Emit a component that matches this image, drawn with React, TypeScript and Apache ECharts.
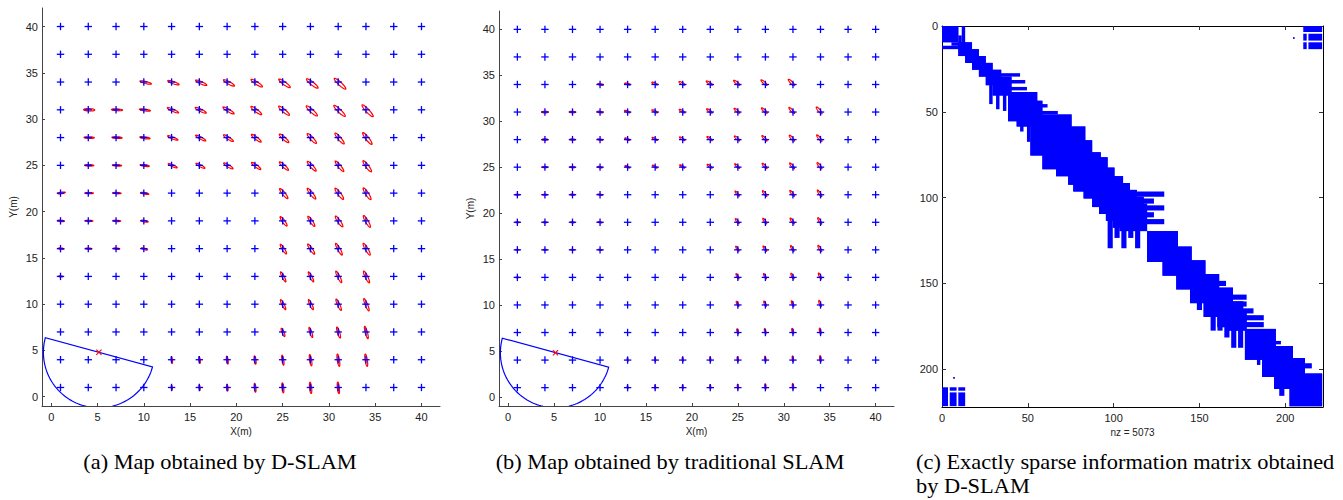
import { useEffect, useRef } from "react";
import * as echarts from "echarts";

// ---------- data ----------
const landmarkX = [1, 4, 7, 10, 13, 16, 19, 22, 25, 28, 31, 34, 37, 40];
const landmarkY = [1, 4, 7, 10, 13, 16, 19, 22, 25, 28, 31, 34, 37, 40];
const mapTicks = [0, 5, 10, 15, 20, 25, 30, 35, 40];
// robot pose: x, y, heading(deg), sensor range (m)
const robotPose = [5.15, 4.8, -105.3, 6];

// D-SLAM estimate ellipses: [x, y, dx, dy, semiMajor, semiMinor, angleDeg]
const ellipsesDSLAM = [
  [10, 34, 0.2, -0.05, 0.64, 0.11, -14], [13, 34, 0.2, -0.07, 0.65, 0.12, -19], [16, 34, 0.2, -0.08, 0.66, 0.13, -24],
  [19, 34, 0.2, -0.1, 0.68, 0.14, -29], [22, 34, 0.2, -0.12, 0.73, 0.15, -33], [25, 34, 0.2, -0.14, 0.76, 0.16, -36],
  [28, 34, 0.2, -0.16, 0.79, 0.17, -38], [31, 34, 0.2, -0.18, 0.84, 0.17, -43],
  [4, 31, 0.1, 0, 0.6, 0.13, -2], [7, 31, 0.1, 0, 0.6, 0.1, -3], [10, 31, 0.12, -0.02, 0.6, 0.1, -8],
  [13, 31, 0.15, -0.05, 0.67, 0.12, -24], [16, 31, 0.15, -0.05, 0.66, 0.13, -26], [19, 31, 0.15, -0.07, 0.7, 0.14, -31],
  [22, 31, 0.15, -0.08, 0.72, 0.15, -37], [25, 31, 0.15, -0.1, 0.75, 0.16, -40], [28, 31, 0.15, -0.12, 0.8, 0.17, -42],
  [31, 31, 0.15, -0.12, 0.85, 0.17, -44], [34, 31, 0.18, -0.1, 0.87, 0.17, -47],
  [4, 28, 0.1, 0, 0.55, 0.09, -2], [7, 28, 0.1, 0, 0.55, 0.09, -3], [10, 28, 0.12, -0.02, 0.56, 0.1, -8],
  [13, 28, 0.13, -0.04, 0.6, 0.11, -22], [16, 28, 0.14, -0.05, 0.62, 0.12, -28], [19, 28, 0.14, -0.06, 0.64, 0.13, -33],
  [22, 28, 0.15, -0.07, 0.66, 0.14, -38], [25, 28, 0.15, -0.08, 0.68, 0.15, -42], [28, 28, 0.15, -0.1, 0.72, 0.16, -47],
  [31, 28, 0.15, -0.1, 0.76, 0.16, -50], [34, 28, 0.15, -0.1, 0.8, 0.17, -52],
  [4, 25, 0.1, 0, 0.5, 0.08, -1], [7, 25, 0.1, 0, 0.5, 0.08, -3], [10, 25, 0.1, -0.02, 0.5, 0.09, -8],
  [13, 25, 0.12, -0.04, 0.53, 0.1, -24], [16, 25, 0.12, -0.05, 0.55, 0.11, -28], [19, 25, 0.13, -0.06, 0.59, 0.12, -31],
  [22, 25, 0.14, -0.07, 0.62, 0.13, -37], [25, 25, 0.14, -0.08, 0.66, 0.14, -43], [28, 25, 0.14, -0.09, 0.7, 0.15, -48],
  [31, 25, 0.14, -0.1, 0.72, 0.15, -51], [34, 25, 0.14, -0.1, 0.74, 0.16, -53],
  [1, 22, 0.1, 0.02, 0.42, 0.08, 8], [4, 22, 0.1, 0, 0.45, 0.07, 0], [7, 22, 0.1, 0, 0.45, 0.07, -3],
  [10, 22, 0.1, -0.03, 0.45, 0.08, -10], [25, 22, 0.12, -0.05, 0.69, 0.15, -51], [28, 22, 0.12, -0.06, 0.73, 0.15, -52],
  [31, 22, 0.12, -0.07, 0.75, 0.16, -53], [34, 22, 0.12, -0.07, 0.75, 0.16, -57],
  [1, 19, 0.05, 0, 0.38, 0.07, -5], [4, 19, 0.08, 0, 0.42, 0.07, -2], [7, 19, 0.08, 0, 0.42, 0.07, -3],
  [10, 19, 0.08, -0.03, 0.4, 0.08, -10], [25, 19, 0.1, -0.05, 0.62, 0.14, -54], [28, 19, 0.1, -0.05, 0.65, 0.14, -56],
  [31, 19, 0.1, -0.06, 0.7, 0.15, -56], [34, 19, 0.1, -0.06, 0.73, 0.15, -60],
  [1, 16, 0.05, 0, 0.33, 0.07, -5], [4, 16, 0.05, 0, 0.35, 0.07, -3], [7, 16, 0.05, 0, 0.35, 0.07, -5],
  [10, 16, 0.06, -0.03, 0.35, 0.08, -15], [25, 16, 0.08, -0.05, 0.61, 0.13, -58], [28, 16, 0.08, -0.05, 0.65, 0.14, -56],
  [31, 16, 0.08, -0.06, 0.72, 0.14, -61], [34, 16, 0.08, -0.06, 0.73, 0.15, -60],
  [1, 13, 0.03, 0, 0.22, 0.06, -5], [25, 13, 0.06, -0.05, 0.6, 0.12, -63], [28, 13, 0.06, -0.05, 0.6, 0.12, -63],
  [31, 13, 0.06, -0.05, 0.7, 0.13, -64], [34, 13, 0.06, -0.06, 0.7, 0.14, -64],
  [25, 10, 0.05, -0.05, 0.6, 0.12, -63], [28, 10, 0.05, -0.05, 0.6, 0.12, -65], [31, 10, 0.05, -0.06, 0.67, 0.13, -66],
  [34, 10, 0.05, -0.06, 0.72, 0.13, -68],
  [25, 7, 0.04, -0.05, 0.48, 0.11, -68], [28, 7, 0.04, -0.05, 0.57, 0.11, -72], [31, 7, 0.04, -0.06, 0.62, 0.12, -73],
  [34, 7, 0.04, -0.06, 0.69, 0.12, -75],
  [13, 4, 0.02, -0.03, 0.36, 0.07, -82], [16, 4, 0.02, -0.03, 0.36, 0.08, -82], [19, 4, 0.02, -0.04, 0.43, 0.09, -82],
  [22, 4, 0.02, -0.04, 0.45, 0.1, -82], [25, 4, 0.02, -0.05, 0.54, 0.1, -81], [28, 4, 0.02, -0.05, 0.61, 0.11, -81],
  [31, 4, 0.02, -0.05, 0.67, 0.12, -81], [34, 4, 0.03, -0.05, 0.67, 0.12, -81],
  [13, 1, 0.02, -0.02, 0.27, 0.06, -84], [16, 1, 0.02, -0.02, 0.3, 0.07, -84], [19, 1, 0.02, -0.03, 0.35, 0.08, -84],
  [22, 1, 0.02, -0.03, 0.48, 0.09, -84], [25, 1, 0.02, -0.04, 0.54, 0.1, -84], [28, 1, 0.02, -0.04, 0.61, 0.11, -84],
  [31, 1, 0.02, -0.04, 0.63, 0.11, -84],
];

// traditional SLAM estimate ellipses: [x, y, dx, dy, semiMajor, semiMinor, angleDeg]
const ellipsesSLAM = [
  [10, 34, 0.05, 0, 0.32, 0.08, -10], [13, 34, 0, 0.05, 0.32, 0.08, -15], [16, 34, -0.05, 0.1, 0.34, 0.09, -22],
  [19, 34, -0.08, 0.12, 0.37, 0.1, -28], [22, 34, -0.1, 0.15, 0.4, 0.1, -33], [25, 34, -0.12, 0.18, 0.42, 0.11, -38],
  [28, 34, -0.15, 0.2, 0.44, 0.11, -42], [31, 34, -0.17, 0.22, 0.47, 0.12, -46],
  [4, 31, 0, 0, 0.36, 0.09, 0], [7, 31, 0, 0, 0.34, 0.08, -3], [10, 31, 0, 0, 0.33, 0.08, -8],
  [13, 31, -0.03, 0.05, 0.32, 0.08, -20], [16, 31, -0.05, 0.08, 0.34, 0.09, -26], [19, 31, -0.07, 0.1, 0.36, 0.09, -31],
  [22, 31, -0.09, 0.12, 0.38, 0.1, -36], [25, 31, -0.1, 0.14, 0.4, 0.1, -40], [28, 31, -0.12, 0.16, 0.42, 0.11, -44],
  [31, 31, -0.13, 0.17, 0.44, 0.11, -47], [34, 31, -0.15, 0.18, 0.47, 0.12, -50],
  [4, 28, 0, 0, 0.32, 0.08, 0], [7, 28, 0, 0, 0.3, 0.07, -3], [10, 28, 0, 0, 0.3, 0.07, -8],
  [13, 28, -0.03, 0.05, 0.3, 0.08, -22], [16, 28, -0.05, 0.07, 0.32, 0.08, -28], [19, 28, -0.06, 0.09, 0.34, 0.09, -33],
  [22, 28, -0.08, 0.11, 0.36, 0.09, -38], [25, 28, -0.09, 0.13, 0.38, 0.1, -42], [28, 28, -0.1, 0.14, 0.4, 0.1, -47],
  [31, 28, -0.12, 0.15, 0.42, 0.11, -50], [34, 28, -0.13, 0.16, 0.45, 0.11, -52],
  [4, 25, 0, 0, 0.3, 0.07, 0], [7, 25, 0, 0, 0.28, 0.07, -3], [10, 25, 0, 0, 0.28, 0.07, -8],
  [13, 25, -0.02, 0.04, 0.29, 0.07, -24], [16, 25, -0.04, 0.06, 0.3, 0.08, -28], [19, 25, -0.05, 0.08, 0.32, 0.08, -31],
  [22, 25, -0.07, 0.1, 0.34, 0.09, -37], [25, 25, -0.08, 0.12, 0.36, 0.09, -43], [28, 25, -0.09, 0.13, 0.38, 0.1, -48],
  [31, 25, -0.1, 0.14, 0.4, 0.1, -51], [34, 25, -0.11, 0.15, 0.42, 0.11, -53],
  [1, 22, 0, 0, 0.24, 0.06, 0], [4, 22, 0, 0, 0.26, 0.06, 0], [7, 22, 0, 0, 0.26, 0.06, -3],
  [10, 22, 0, 0, 0.26, 0.06, -10], [25, 22, -0.07, 0.12, 0.36, 0.09, -51], [28, 22, -0.08, 0.13, 0.38, 0.1, -52],
  [31, 22, -0.09, 0.14, 0.4, 0.1, -53], [34, 22, -0.1, 0.15, 0.42, 0.1, -57],
  [1, 19, 0, 0, 0.22, 0.06, 0], [4, 19, 0, 0, 0.24, 0.06, 0], [7, 19, 0, 0, 0.24, 0.06, -3],
  [10, 19, 0, 0, 0.24, 0.06, -10], [25, 19, -0.06, 0.12, 0.34, 0.09, -54], [28, 19, -0.07, 0.13, 0.36, 0.09, -56],
  [31, 19, -0.08, 0.14, 0.38, 0.1, -56], [34, 19, -0.09, 0.15, 0.4, 0.1, -60],
  [1, 16, 0, 0, 0.2, 0.05, 0], [4, 16, 0, 0, 0.22, 0.05, 0], [7, 16, 0, 0, 0.22, 0.05, -3],
  [10, 16, 0, 0, 0.22, 0.05, -10], [25, 16, -0.05, 0.12, 0.32, 0.08, -58], [28, 16, -0.06, 0.13, 0.34, 0.09, -56],
  [31, 16, -0.07, 0.14, 0.36, 0.09, -61], [34, 16, -0.08, 0.15, 0.38, 0.1, -60],
  [1, 13, 0, 0, 0.18, 0.05, 0], [25, 13, -0.04, 0.12, 0.32, 0.08, -63], [28, 13, -0.05, 0.13, 0.32, 0.08, -63],
  [31, 13, -0.06, 0.14, 0.34, 0.09, -64], [34, 13, -0.06, 0.15, 0.36, 0.09, -64],
  [25, 10, -0.03, 0.12, 0.3, 0.08, -66], [28, 10, -0.04, 0.13, 0.32, 0.08, -68], [31, 10, -0.04, 0.14, 0.34, 0.08, -70],
  [34, 10, -0.05, 0.15, 0.36, 0.09, -72],
  [25, 7, -0.02, 0.12, 0.28, 0.07, -75], [28, 7, -0.02, 0.13, 0.3, 0.07, -77], [31, 7, -0.03, 0.14, 0.32, 0.08, -78],
  [34, 7, -0.03, 0.15, 0.34, 0.08, -80],
  [13, 4, 0, 0.05, 0.2, 0.05, -85], [16, 4, 0, 0.06, 0.22, 0.05, -85], [19, 4, 0, 0.08, 0.24, 0.06, -85],
  [22, 4, 0, 0.09, 0.26, 0.06, -85], [25, 4, -0.01, 0.1, 0.28, 0.07, -84], [28, 4, -0.01, 0.12, 0.3, 0.07, -84],
  [31, 4, -0.01, 0.13, 0.32, 0.07, -84], [34, 4, -0.01, 0.14, 0.34, 0.08, -84],
  [13, 1, 0, 0.04, 0.18, 0.05, -86], [16, 1, 0, 0.06, 0.2, 0.05, -86], [19, 1, 0, 0.07, 0.22, 0.05, -86],
  [22, 1, 0, 0.08, 0.24, 0.06, -86], [25, 1, 0, 0.1, 0.27, 0.06, -86], [28, 1, 0, 0.12, 0.3, 0.07, -86],
  [31, 1, 0, 0.14, 0.32, 0.07, -86],
];

// sparse information matrix (symmetric): dense blocks in the upper part [rowStart, rowEnd, colStart, colEnd]
const matrixSize = 221;
const nonZeros = 5073;
const spyTicks = [0, 50, 100, 150, 200];
const spyBlocks = [
  [0, 9, 0, 9], [0, 13, 12, 13], [6, 13, 10, 11],
  [10, 17, 10, 17], [14, 21, 14, 21], [18, 25, 18, 25], [22, 29, 22, 29], [26, 34, 26, 34],
  [30, 40, 30, 40], [39, 55, 39, 55], [44, 58, 44, 58], [52, 75, 52, 75], [59, 83, 59, 83],
  [67, 87, 67, 87], [74, 92, 74, 92], [77, 96, 77, 96], [83, 100, 83, 100], [88, 105, 88, 105],
  [92, 109, 92, 109], [96, 113, 96, 113], [100, 117, 100, 117], [104, 119, 104, 119],
  [120, 137, 120, 137], [129, 145, 129, 145], [137, 153, 137, 153], [145, 161, 145, 161],
  [153, 169, 153, 169], [161, 175, 161, 175], [166, 177, 166, 177], [177, 194, 177, 194],
  [187, 204, 187, 204], [194, 211, 194, 211], [203, 221, 203, 221],
  // off-band fingers
  [28, 29, 34, 45], [32, 33, 38, 48], [36, 37, 40, 49], [46, 47, 55, 61], [50, 51, 58, 67],
  [80, 81, 88, 93], [97, 99, 109, 129], [101, 103, 113, 123], [105, 107, 117, 129],
  [109, 111, 119, 123], [113, 115, 119, 129], [149, 151, 161, 165], [153, 155, 161, 169],
  [157, 159, 165, 177], [161, 163, 169, 177], [165, 167, 173, 181], [169, 171, 175, 187],
  [173, 175, 175, 187], [184, 185, 194, 197], [197, 199, 204, 215],
  // corner block (loop closure)
  [0, 3, 211, 221], [5, 8, 211, 212], [5, 8, 214, 221], [10, 13, 211, 212], [10, 13, 214, 221],
  [7, 7, 205, 205],
];

const captions = [
  "(a) Map obtained by D-SLAM",
  "(b) Map obtained by traditional SLAM",
  "(c) Exactly sparse information matrix obtained",
  "by D-SLAM",
];

// ---------- drawing helpers ----------
const BLUE = "#0000ff";
const RED = "#ff0000";
const SANS = '"Liberation Sans", Arial, Helvetica, sans-serif';
const SERIF = '"Liberation Serif", "Times New Roman", serif';

const plusItem = (_p: any, api: any) => {
  const c = api.coord([api.value(0), api.value(1)]);
  const h = 3.7;
  return {
    type: "group",
    children: [
      { type: "line", shape: { x1: c[0] - h, y1: c[1], x2: c[0] + h, y2: c[1] }, style: { stroke: BLUE, lineWidth: 1.3 } },
      { type: "line", shape: { x1: c[0], y1: c[1] - h, x2: c[0], y2: c[1] + h }, style: { stroke: BLUE, lineWidth: 1.3 } },
    ],
  };
};

const ellipseItem = (_p: any, api: any) => {
  const cx = api.value(0) + api.value(2);
  const cy = api.value(1) + api.value(3);
  const a = api.value(4);
  const b = api.value(5);
  const th = (api.value(6) * Math.PI) / 180;
  const pts: number[][] = [];
  for (let k = 0; k <= 40; k++) {
    const t = (k / 40) * 2 * Math.PI;
    const ex = a * Math.cos(t);
    const ey = b * Math.sin(t);
    pts.push(api.coord([cx + ex * Math.cos(th) - ey * Math.sin(th), cy + ex * Math.sin(th) + ey * Math.cos(th)]));
  }
  return { type: "polygon", shape: { points: pts }, style: { fill: "none", stroke: RED, lineWidth: 1.2 } };
};

const sensorItem = (_p: any, api: any) => {
  const x0 = api.value(0);
  const y0 = api.value(1);
  const hd = (api.value(2) * Math.PI) / 180;
  const r = api.value(3);
  const pts: number[][] = [];
  for (let k = 0; k <= 80; k++) {
    const t = hd - Math.PI / 2 + (Math.PI * k) / 80;
    pts.push(api.coord([x0 + r * Math.cos(t), y0 + r * Math.sin(t)]));
  }
  return { type: "polygon", shape: { points: pts }, style: { fill: "none", stroke: BLUE, lineWidth: 1.2 } };
};

const crossItem = (_p: any, api: any) => {
  const c = api.coord([api.value(0), api.value(1)]);
  const h = 2.6;
  return {
    type: "group",
    children: [
      { type: "line", shape: { x1: c[0] - h, y1: c[1] - h, x2: c[0] + h, y2: c[1] + h }, style: { stroke: RED, lineWidth: 1.1 } },
      { type: "line", shape: { x1: c[0] - h, y1: c[1] + h, x2: c[0] + h, y2: c[1] - h }, style: { stroke: RED, lineWidth: 1.1 } },
    ],
  };
};

const blockItem = (_p: any, api: any) => {
  const r0 = api.value(0), r1 = api.value(1), c0 = api.value(2), c1 = api.value(3);
  const p1 = api.coord([c0 - 0.5, r0 - 0.5]);
  const p2 = api.coord([c1 + 0.5, r1 + 0.5]);
  return {
    type: "rect",
    shape: { x: Math.min(p1[0], p2[0]), y: Math.min(p1[1], p2[1]), width: Math.abs(p2[0] - p1[0]), height: Math.abs(p2[1] - p1[1]) },
    style: { fill: BLUE },
  };
};

const mapXAxis = (gridIndex: number) => ({
  gridIndex,
  type: "value",
  min: -1,
  max: 42,
  name: "X(m)",
  nameLocation: "middle",
  nameGap: 20,
  nameTextStyle: { fontFamily: SANS, fontSize: 10, color: "#222" },
  axisLine: { show: true, onZero: false, lineStyle: { color: "#444", width: 1 } },
  axisTick: { show: true, inside: true, length: 3, customValues: mapTicks, lineStyle: { color: "#444" } },
  axisLabel: { customValues: mapTicks, fontFamily: SANS, fontSize: 11, color: "#222", margin: 5 },
  splitLine: { show: false },
});

const mapYAxis = (gridIndex: number) => ({
  gridIndex,
  type: "value",
  min: -1,
  max: 42,
  name: "Y(m)",
  nameLocation: "middle",
  nameGap: 24,
  nameTextStyle: { fontFamily: SANS, fontSize: 10, color: "#222" },
  axisLine: { show: true, onZero: false, lineStyle: { color: "#444", width: 1 } },
  axisTick: { show: true, inside: true, length: 3, customValues: mapTicks, lineStyle: { color: "#444" } },
  axisLabel: { customValues: mapTicks, fontFamily: SANS, fontSize: 11, color: "#222", margin: 4 },
  splitLine: { show: false },
});

const spyAxisBase = {
  type: "value",
  min: 0,
  max: matrixSize + 1,
  axisLine: { show: true, onZero: false, lineStyle: { color: "#000", width: 1 } },
  axisTick: { show: true, inside: true, length: 4, customValues: spyTicks, lineStyle: { color: "#333" } },
  splitLine: { show: false },
};

export default function App() {
  const ref = useRef<HTMLDivElement>(null);

  useEffect(() => {
    const chart = echarts.init(ref.current!, null, { renderer: "svg" });
    const landmarks = landmarkY.flatMap((y) => landmarkX.map((x) => [x, y]));
    const spyData = [
      ...spyBlocks,
      ...spyBlocks.map(([r0, r1, c0, c1]) => [c0, c1, r0, r1]),
    ];

    const mapSeries = (idx: number, ellipses: number[][]) => [
      { type: "custom", xAxisIndex: idx, yAxisIndex: idx, renderItem: ellipseItem, data: ellipses, clip: true, z: 2, silent: true },
      { type: "custom", xAxisIndex: idx, yAxisIndex: idx, renderItem: plusItem, data: landmarks, clip: true, z: 3, silent: true },
      { type: "custom", xAxisIndex: idx, yAxisIndex: idx, renderItem: sensorItem, data: [robotPose], clip: true, z: 4, silent: true },
      { type: "custom", xAxisIndex: idx, yAxisIndex: idx, renderItem: crossItem, data: [robotPose.slice(0, 2)], clip: true, z: 5, silent: true },
    ];

    chart.setOption({
      animation: false,
      backgroundColor: "#ffffff",
      grid: [
        { left: 42, top: 8, width: 398, height: 398 },
        { left: 499, top: 11, width: 395, height: 395 },
        { left: 942, top: 26, width: 381, height: 381 },
      ],
      xAxis: [
        mapXAxis(0),
        mapXAxis(1),
        {
          ...spyAxisBase,
          gridIndex: 2,
          position: "bottom",
          name: `nz = ${nonZeros}`,
          nameLocation: "middle",
          nameGap: 20,
          nameTextStyle: { fontFamily: SANS, fontSize: 10, color: "#222" },
          axisLabel: { customValues: spyTicks, fontFamily: SANS, fontSize: 11, color: "#222", margin: 5 },
        },
        { ...spyAxisBase, gridIndex: 2, position: "top", axisLabel: { show: false } },
      ],
      yAxis: [
        mapYAxis(0),
        mapYAxis(1),
        {
          ...spyAxisBase,
          gridIndex: 2,
          position: "left",
          inverse: true,
          axisLabel: { customValues: spyTicks, fontFamily: SANS, fontSize: 11, color: "#222", margin: 4 },
        },
        { ...spyAxisBase, gridIndex: 2, position: "right", inverse: true, axisLabel: { show: false } },
      ],
      series: [
        ...mapSeries(0, ellipsesDSLAM),
        ...mapSeries(1, ellipsesSLAM),
        { type: "custom", xAxisIndex: 2, yAxisIndex: 2, renderItem: blockItem, data: spyData, clip: true, silent: true },
      ],
      graphic: [
        { type: "text", x: 220, y: 462, scaleX: 1.12, style: { text: captions[0], font: `20px ${SERIF}`, fill: "#000", align: "center", verticalAlign: "middle" } },
        { type: "text", x: 670, y: 462, scaleX: 1.12, style: { text: captions[1], font: `20px ${SERIF}`, fill: "#000", align: "center", verticalAlign: "middle" } },
        { type: "text", x: 916, y: 462, scaleX: 1.12, style: { text: captions[2], font: `20px ${SERIF}`, fill: "#000", align: "left", verticalAlign: "middle" } },
        { type: "text", x: 916, y: 486, scaleX: 1.12, style: { text: captions[3], font: `20px ${SERIF}`, fill: "#000", align: "left", verticalAlign: "middle" } },
      ],
    });
    return () => chart.dispose();
  }, []);

  return <div ref={ref} style={{ position: "absolute", left: 0, top: 0, width: 1343, height: 500 }} />;
}
